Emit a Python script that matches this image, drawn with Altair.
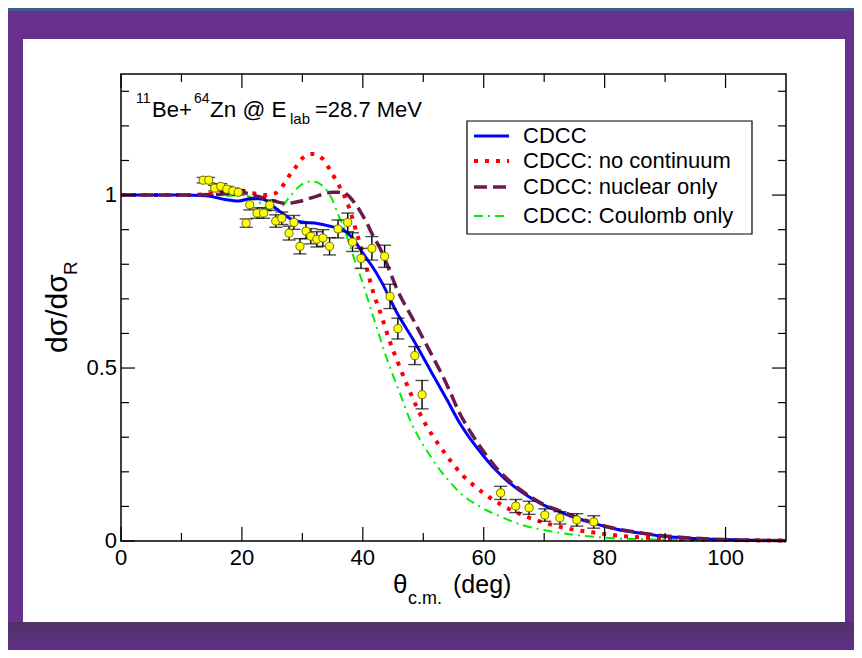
import altair as alt
import pandas as pd

W, H = 665, 467
FONT = "Liberation Sans"

# ---------------- data ----------------
exp_theta = [13.6, 14.5, 15.5, 16.5, 17.5, 18.5, 19.4,
             20.7, 21.3, 22.5, 23.6, 24.6, 25.6, 26.6,
             27.8, 28.6, 29.6, 30.6, 31.4, 32.4, 33.4, 34.5,
             35.9, 37.5, 38.3, 39.7, 41.5, 43.6,
             44.5, 45.8, 48.6, 49.8,
             62.8, 65.3, 67.5, 70.1, 72.6, 75.4, 78.2]
exp_ratio = [1.043, 1.043, 1.020, 1.025, 1.017, 1.012, 1.008,
             0.919, 0.972, 0.948, 0.948, 0.971, 0.925, 0.933,
             0.890, 0.921, 0.852, 0.896, 0.881, 0.872, 0.876, 0.852,
             0.902, 0.921, 0.864, 0.817, 0.846, 0.823,
             0.707, 0.614, 0.536, 0.423,
             0.139, 0.101, 0.096, 0.075, 0.067, 0.061, 0.055]
exp_err = [0.008, 0.008, 0.008, 0.008, 0.008, 0.008, 0.008,
           0.012, 0.015, 0.015, 0.015, 0.015, 0.018, 0.018,
           0.020, 0.020, 0.022, 0.022, 0.022, 0.022, 0.024, 0.025,
           0.026, 0.027, 0.027, 0.029, 0.034, 0.032,
           0.035, 0.030, 0.026, 0.041,
           0.019, 0.019, 0.019, 0.018, 0.018, 0.018, 0.018]

cdcc_theta = [0, 5, 10, 14, 17, 19.5, 21.5, 23.5, 25, 26.5, 28, 30, 32.5, 35, 36.7,
              38.3, 40, 41.7, 43, 45.6, 48.3, 51.1, 53.9, 56, 58, 60, 62, 64, 66, 68,
              70, 72.6, 75, 77.5, 80.3, 83, 85.8, 88.6, 94, 100, 110]
cdcc_val = [1.0, 1.0, 1.0, 0.998, 0.988, 0.983, 0.990, 0.988, 0.970, 0.950, 0.932, 0.922,
            0.918, 0.908, 0.900, 0.876, 0.832, 0.790, 0.752, 0.661, 0.583, 0.496, 0.409,
            0.342, 0.290, 0.245, 0.205, 0.172, 0.145, 0.122, 0.103, 0.085, 0.068, 0.055,
            0.041, 0.030, 0.023, 0.016, 0.008, 0.004, 0.001]

nocont_theta = [0, 10, 15, 18.5, 20.2, 22, 24, 25.5, 26.6, 27.6, 28.8, 29.9, 31.6, 33.4,
                34.5, 35.7, 36.9, 37.8, 39, 40, 40.7, 41.7, 43.1, 44.3, 45.8, 47.3, 48.9,
                50.7, 52.5, 54.5, 56.5, 58.2, 59.7, 61.3, 63, 66.4, 70.2, 74.2, 78, 82,
                90, 100, 110]
nocont_val = [1.0, 1.0, 1.004, 1.015, 1.012, 1.005, 1.0, 1.005, 1.023, 1.050, 1.078, 1.105,
              1.119, 1.104, 1.075, 1.038, 1.0, 0.960, 0.890, 0.830, 0.785, 0.720, 0.650,
              0.585, 0.516, 0.452, 0.388, 0.328, 0.280, 0.232, 0.190, 0.163, 0.142, 0.122,
              0.104, 0.075, 0.052, 0.035, 0.025, 0.016, 0.007, 0.003, 0.001]

nuc_theta = [0, 10, 17, 19.7, 22.5, 25, 27.4, 29.6, 32.4, 35, 36.7, 38.3, 39.5, 40.7,
             41.7, 42.8, 44, 45.6, 48.3, 51.1, 53.9, 56, 58, 60, 62, 64, 66, 70, 72.6,
             77.5, 80.3, 85.8, 94, 100, 110]
nuc_val = [1.0, 1.0, 1.003, 1.008, 0.997, 0.984, 0.976, 0.982, 0.997, 1.008, 1.008, 0.985,
           0.955, 0.918, 0.882, 0.848, 0.800, 0.730, 0.641, 0.548, 0.452, 0.370, 0.310,
           0.258, 0.213, 0.178, 0.149, 0.105, 0.087, 0.056, 0.042, 0.024, 0.009, 0.004,
           0.001]

coul_theta = [0, 10, 15, 17.5, 20, 22, 23.5, 24.6, 26.3, 27.9, 29.6, 31.6, 33.4, 35, 36,
              37, 38, 39, 40, 41.5, 42.8, 44.1, 45.3, 46.4, 47.8, 49.4, 51, 53, 55.2,
              56.5, 59.3, 62.6, 66.4, 69.8, 75.4, 80.8, 90, 100, 110]
coul_val = [1.0, 1.0, 1.0, 0.998, 1.0, 0.990, 0.970, 0.955, 0.962, 0.995, 1.027, 1.040,
            1.026, 0.985, 0.940, 0.900, 0.845, 0.795, 0.745, 0.660, 0.590, 0.520, 0.465,
            0.415, 0.350, 0.295, 0.250, 0.200, 0.155, 0.133, 0.100, 0.072, 0.046, 0.032,
            0.017, 0.009, 0.004, 0.002, 0.001]

series_names = ["CDCC", "CDCC: no continuum", "CDCC: nuclear only", "CDCC: Coulomb only"]
x_major = [0, 20, 40, 60, 80, 100]
x_labels = ["0", "20", "40", "60", "80", "100"]
x_minor = [10, 30, 50, 70, 90]
y_major = [0, 0.5, 1]
y_labels = ["0", "0.5", "1"]
y_minor = [0.1, 0.2, 0.3, 0.4, 0.6, 0.7, 0.8, 0.9, 1.1, 1.2, 1.3]

# ---------------- helpers ----------------
xs = alt.Scale(domain=[0, 110], nice=False, zero=False)
ys = alt.Scale(domain=[0, 1.35], nice=False, zero=False)
one = pd.DataFrame({"k": [0]})


def box(x1, x2, y1, y2, **kw):
    return alt.Chart(one).mark_rect(**kw).encode(
        x=alt.value(x1), x2=alt.value(x2), y=alt.value(y1), y2=alt.value(y2))


def label(txt, x, y, size, **kw):
    opts = dict(text=txt, align="left", baseline="alphabetic", fontSize=size,
                font=FONT, color="black")
    opts.update(kw)
    return alt.Chart(one).mark_text(**opts).encode(x=alt.value(x), y=alt.value(y))


def curve(th, val, color, width, dash=None):
    df = pd.DataFrame({"theta": th, "ratio": val})
    kw = dict(color=color, strokeWidth=width, interpolate="monotone", strokeCap="butt")
    if dash:
        kw["strokeDash"] = dash
    return alt.Chart(df).mark_line(**kw).encode(
        x=alt.X("theta:Q", scale=xs, axis=None),
        y=alt.Y("ratio:Q", scale=ys, axis=None))


def xticks(vals, y1, y2):
    return alt.Chart(pd.DataFrame({"v": vals})).mark_rule(color="black", strokeWidth=1.2).encode(
        x=alt.X("v:Q", scale=xs, axis=None), y=alt.value(y1), y2=alt.value(y2))


def yticks(vals, x1, x2):
    return alt.Chart(pd.DataFrame({"v": vals})).mark_rule(color="black", strokeWidth=1.2).encode(
        y=alt.Y("v:Q", scale=ys, axis=None), x=alt.value(x1), x2=alt.value(x2))


STYLES = [
    ("#0000ff", 3.0, None),
    ("#ff0000", 4.0, [4, 7]),
    ("#6b1a50", 3.5, [13, 6]),
    ("#00ee00", 2.0, [9, 5, 2, 5]),
]

exp_df = pd.DataFrame({"theta": exp_theta, "ratio": exp_ratio, "err": exp_err})
exp_df["lo"] = exp_df["ratio"] - exp_df["err"]
exp_df["hi"] = exp_df["ratio"] + exp_df["err"]

base = alt.Chart(exp_df)
X = alt.X("theta:Q", scale=xs, axis=None)

err_rule = base.mark_rule(color="black", strokeWidth=1.4).encode(
    x=X, y=alt.Y("lo:Q", scale=ys, axis=None), y2="hi:Q")
cap_lo = base.mark_tick(orient="horizontal", size=13, thickness=1.4, color="black").encode(
    x=X, y=alt.Y("lo:Q", scale=ys, axis=None))
cap_hi = base.mark_tick(orient="horizontal", size=13, thickness=1.4, color="black").encode(
    x=X, y=alt.Y("hi:Q", scale=ys, axis=None))
pts = base.mark_circle(size=66, color="#ffff00", opacity=1, stroke="#6f6f00",
                       strokeWidth=1).encode(
    x=X, y=alt.Y("ratio:Q", scale=ys, axis=None))

# tick labels, placed through the shared scales
xlab = alt.Chart(pd.DataFrame({"v": x_major, "t": x_labels})).mark_text(
    baseline="top", align="center", fontSize=22, font=FONT, color="black").encode(
    x=alt.X("v:Q", scale=xs, axis=None), y=alt.value(H + 7), text="t:N")
ylab = alt.Chart(pd.DataFrame({"v": y_major, "t": y_labels})).mark_text(
    baseline="middle", align="right", fontSize=22, font=FONT, color="black").encode(
    y=alt.Y("v:Q", scale=ys, axis=None), x=alt.value(-4), text="t:N")

layers = [
    # white panel + frame stripes
    box(-113, 733, -66, -63, color="#3d5a8c"),
    box(-98, 724, -35, 548, color="white"),
    box(-113, 733, 548, 576, color=alt.LinearGradient(
        gradient="linear", x1=0, y1=0, x2=0, y2=1,
        stops=[alt.GradientStop(offset=0, color="#4e3366"),
               alt.GradientStop(offset=1, color="#62308a")])),
    curve(coul_theta, coul_val, *STYLES[3]),
    curve(nocont_theta, nocont_val, *STYLES[1]),
    curve(cdcc_theta, cdcc_val, *STYLES[0]),
    curve(nuc_theta, nuc_val, *STYLES[2]),
    err_rule, cap_lo, cap_hi, pts,
    # inward ticks on all four sides
    xticks(x_major, H, H - 14), xticks(x_minor, H, H - 8),
    xticks(x_major, 0, 14), xticks(x_minor, 0, 8),
    yticks(y_major, 0, 14), yticks(y_minor, 0, 8),
    yticks(y_major, W, W - 14), yticks(y_minor, W, W - 8),
    xlab, ylab,
    # frame
    box(0, W, 0, H, fillOpacity=0, stroke="black", strokeWidth=1.5),
    # legend
    box(346, 631, 47, 160, color="white", stroke="black", strokeWidth=1.2),
]

leg_y = [62, 87, 113, 142]
for (col, wdt, dash), name, yy in zip(STYLES, series_names, leg_y):
    kw = dict(color=col, strokeWidth=wdt, strokeCap="butt")
    if dash:
        kw["strokeDash"] = dash
    layers.append(alt.Chart(one).mark_rule(**kw).encode(
        x=alt.value(353), x2=alt.value(388), y=alt.value(yy)))
    layers.append(label(name, 402, yy, 22, baseline="middle"))

# annotation: 11Be+64Zn @ Elab=28.7 MeV
layers += [
    label("11", 15, 29, 14),
    label("Be+", 31, 43, 22),
    label("64", 73, 29, 14),
    label("Zn @ E", 89, 43, 22.5),
    label("lab", 169, 50, 15),
    label("=28.7 MeV", 194, 43, 22),
    # x title
    label("θ", 272, 519, 26),
    label("c.m.", 287, 530, 18),
    label("(deg)", 332, 519, 25),
    # y title
    label("dσ/dσ", -54, 279, 30, angle=270),
    label("R", -44, 201, 19, angle=270),
]

chart = alt.layer(*layers).properties(
    width=W, height=H,
    autosize=alt.AutoSizeParams(type="none"),
    padding={"left": 113, "top": 66, "right": 68, "bottom": 109},
).configure(background="#67308f").configure_view(stroke=None)

chart.save("out.html", embed_options={"renderer": "svg", "actions": False})
